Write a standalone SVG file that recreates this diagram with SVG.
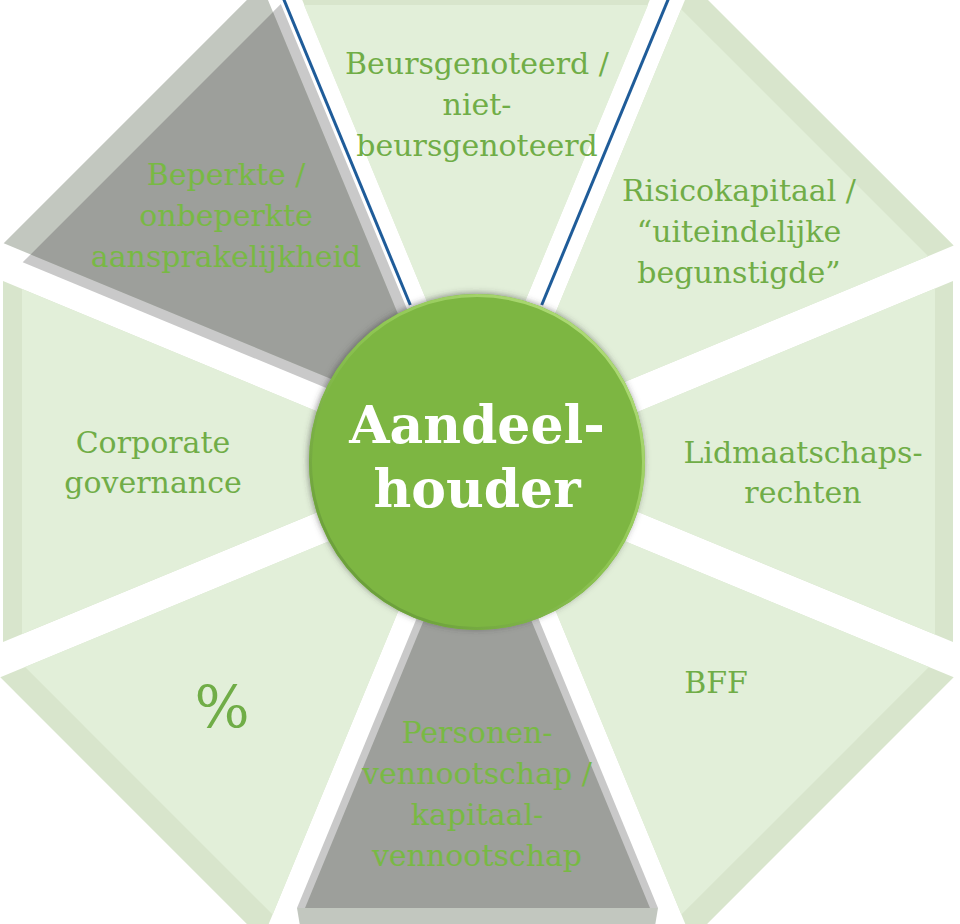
<svg xmlns="http://www.w3.org/2000/svg" width="960" height="924" viewBox="0 0 960 924">
<defs>
<style>
.band{fill:#d8e5cc}
.face{fill:#e2efd9}
.gband{fill:#c2c7bf}
.gface{fill:#9d9f9b}
.gshadow{fill:#c9c9c9}
.lbl{font-family:"DejaVu Serif","Liberation Serif",serif;font-size:30px;fill:#70ad47;text-anchor:middle}
.glbl{fill:#78b944}
.conn{stroke:#1f5c99;stroke-width:3;fill:none}
.hub{font-family:"DejaVu Serif","Liberation Serif",serif;font-weight:bold;font-size:52px;fill:#ffffff;text-anchor:middle}
</style>
<filter id="sh" x="-20%" y="-20%" width="140%" height="140%">
<feDropShadow dx="-1" dy="-1" stdDeviation="3" flood-color="#404040" flood-opacity="0.55"/>
</filter>
<linearGradient id="rim" x1="1" y1="0" x2="0" y2="1">
<stop offset="0" stop-color="#b9e282"/>
<stop offset="0.45" stop-color="#8fc653"/>
<stop offset="1" stop-color="#5f9232"/>
</linearGradient>
</defs>
<rect width="960" height="924" fill="#ffffff"/>

<g id="seg-top">
<polygon class="band" points="294,-20 658,-20 476,420"/>
<polygon class="face" points="304,5 648,5 476,420"/>
<text class="lbl" x="477" y="74">Beursgenoteerd /</text>
<text class="lbl" x="477" y="115">niet-</text>
<text class="lbl" x="477" y="156">beursgenoteerd</text>
</g>

<g id="seg-upper-right">
<polygon class="band" points="691.7,-16.3 953.7,245.6 506.7,430.7"/>
<polygon class="face" points="681.2,9.2 928.2,256.2 506.7,430.7"/>
<text class="lbl" x="739" y="201">Risicokapitaal /</text>
<text class="lbl" x="739" y="242">“uiteindelijke</text>
<text class="lbl" x="739" y="283">begunstigde”</text>
</g>

<g id="seg-right">
<polygon class="band" points="953,281 953,642 517,462"/>
<polygon class="face" points="935,288.5 935,634.5 517,462"/>
<text class="lbl" x="803" y="463">Lidmaatschaps-</text>
<text class="lbl" x="803" y="503">rechten</text>
</g>

<g id="seg-lower-right">
<polygon class="band" points="953.7,677.3 691.7,939.4 506.5,492.2"/>
<polygon class="face" points="928.9,667.1 681.4,914.6 506.5,492.2"/>
<text class="lbl" x="716" y="693">BFF</text>
</g>

<g id="seg-lower-left">
<polygon class="band" points="0.3,677.3 262.3,939.4 447.5,492.2"/>
<polygon class="face" points="25.1,667.1 272.6,914.6 447.5,492.2"/>
<text class="lbl" x="222" y="727" style="font-size:58px">%</text>
</g>

<g id="seg-left">
<polygon class="band" points="3,281 3,642 439,462"/>
<polygon class="face" points="22,288.9 22,634.1 439,462"/>
<text class="lbl" x="153" y="453">Corporate</text>
<text class="lbl" x="153" y="493">governance</text>
</g>

<g id="seg-upper-left">
<polygon class="gshadow" points="22.7,262.3 280.8,4.1 463.2,444.7"/>
<polygon class="gband" points="3.7,243.3 261.8,-14.9 444.2,425.7"/>
<polygon class="gface" points="30.6,254.4 273,12 444.2,425.7"/>
<text class="lbl glbl" x="226" y="185">Beperkte /</text>
<text class="lbl glbl" x="226" y="226">onbeperkte</text>
<text class="lbl glbl" x="226" y="267">aansprakelijkheid</text>
</g>

<g id="seg-bottom">
<polygon class="gshadow" points="297,908 658,908 477.5,471"/>
<polygon class="gface" points="305,908 650,908 477.5,490"/>
<polygon class="gband" points="297,908 658,908 654,932 301,932"/>
<text class="lbl glbl" x="477" y="743">Personen-</text>
<text class="lbl glbl" x="477" y="784">vennootschap /</text>
<text class="lbl glbl" x="477" y="825">kapitaal-</text>
<text class="lbl glbl" x="477" y="866">vennootschap</text>
</g>

<g id="connectors">
<line class="conn" x1="282" y1="-5" x2="410.3" y2="305"/>
<line class="conn" x1="670" y1="-5" x2="541.7" y2="305"/>
</g>

<g id="hub-node">
<circle cx="477" cy="462" r="168" fill="#7db642" filter="url(#sh)"/>
<circle cx="477" cy="462" r="166.5" fill="none" stroke="url(#rim)" stroke-width="3"/>
<text class="hub" x="477" y="443">Aandeel-</text>
<text class="hub" x="477" y="507">houder</text>
</g>
</svg>
